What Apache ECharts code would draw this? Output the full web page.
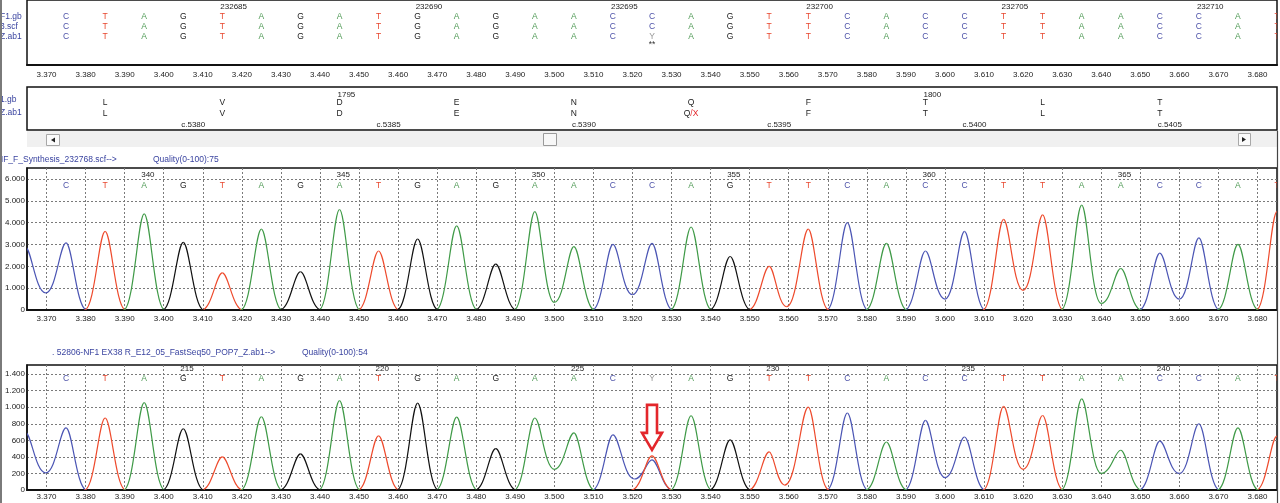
<!DOCTYPE html>
<html><head><meta charset="utf-8">
<script src="https://cdn.jsdelivr.net/npm/echarts@6.0.0/dist/echarts.min.js"></script>
<style>html,body{margin:0;padding:0;background:#fff;overflow:hidden}#chart{width:1280px;height:503px}</style>
</head><body><div id="chart"></div>
<script>
// ---------------- data ----------------
const xTicks = [3.370,3.380,3.390,3.400,3.410,3.420,3.430,3.440,3.450,3.460,3.470,3.480,3.490,3.500,3.510,3.520,3.530,3.540,3.550,3.560,3.570,3.580,3.590,3.600,3.610,3.620,3.630,3.640,3.650,3.660,3.670,3.680];
const basePos = [3.375,3.385,3.395,3.405,3.415,3.425,3.435,3.445,3.455,3.465,3.475,3.485,3.495,3.505,3.515,3.525,3.535,3.545,3.555,3.565,3.575,3.585,3.595,3.605,3.615,3.625,3.635,3.645,3.655,3.665,3.675,3.685];
const seqGb  = ['C','T','A','G','T','A','G','A','T','G','A','G','A','A','C','C','A','G','T','T','C','A','C','C','T','T','A','A','C','C','A','T'];
const seqScf = ['C','T','A','G','T','A','G','A','T','G','A','G','A','A','C','C','A','G','T','T','C','A','C','C','T','T','A','A','C','C','A','T'];
const seqAb1 = ['C','T','A','G','T','A','G','A','T','G','A','G','A','A','C','Y','A','G','T','T','C','A','C','C','T','T','A','A','C','C','A','T'];
const markPos = [3.525];
const markText = ['**'];
const genomicPos = [3.415,3.465,3.515,3.565,3.615,3.665];
const genomicNum = ['232685','232690','232695','232700','232705','232710'];
const aaPos = [3.385,3.415,3.445,3.475,3.505,3.535,3.565,3.595,3.625,3.655];
const aaRef = ['L','V','D','E','N','Q','F','T','L','T'];
const aaSample = ['L','V','D','E','N','Q/X','F','T','L','T'];
const codonPos = [3.445,3.595];
const codonNum = ['1795','1800'];
const cdnaPos = [3.405,3.455,3.505,3.555,3.605,3.655];
const cdnaLabel = ['c.5380','c.5385','c.5390','c.5395','c.5400','c.5405'];
const trace1NumPos = [3.395,3.445,3.495,3.545,3.595,3.645];
const trace1Num = ['340','345','350','355','360','365'];
const trace2NumPos = [3.405,3.455,3.505,3.555,3.605,3.655];
const trace2Num = ['215','220','225','230','235','240'];
const trace1Calls = ['C','T','A','G','T','A','G','A','T','G','A','G','A','A','C','C','A','G','T','T','C','A','C','C','T','T','A','A','C','C','A','T'];
const trace2Calls = ['C','T','A','G','T','A','G','A','T','G','A','G','A','A','C','Y','A','G','T','T','C','A','C','C','T','T','A','A','C','C','A','T'];
const trace1YTicks = [0,1000,2000,3000,4000,5000,6000];
const trace2YTicks = [0,200,400,600,800,1000,1200,1400];

// peak runs per channel: [position, amplitude] of peak tops and the valleys between merged peaks
const trace1A = [[[3.395,4400]],[[3.425,3700]],[[3.445,4600]],[[3.475,3850]],[[3.495,4500],[3.500,350],[3.505,2900]],[[3.535,3800]],[[3.585,3050]],[[3.635,4800],[3.640,300],[3.645,1900]],[[3.675,3000]]];
const trace1C = [[[3.3645,2900],[3.3698,780],[3.375,3070]],[[3.515,3000],[3.520,700],[3.525,3050]],[[3.575,4000]],[[3.595,2700],[3.600,500],[3.605,3600]],[[3.655,2600],[3.660,500],[3.665,3300]]];
const trace1G = [[[3.405,3100]],[[3.435,1750]],[[3.465,3250]],[[3.485,2100]],[[3.545,2450]]];
const trace1T = [[[3.385,3600]],[[3.415,1700]],[[3.455,2700]],[[3.555,2000],[3.5595,150],[3.565,3700]],[[3.615,4150],[3.620,900],[3.625,4350]],[[3.685,4500]]];

const trace2A = [[[3.395,1055]],[[3.425,885]],[[3.445,1080]],[[3.475,880]],[[3.495,870],[3.500,250],[3.505,690]],[[3.535,897]],[[3.585,580]],[[3.635,1100],[3.640,200],[3.645,480]],[[3.675,750]]];
const trace2C = [[[3.3645,700],[3.3698,206],[3.375,750]],[[3.515,667],[3.5205,133],[3.525,364]],[[3.575,930]],[[3.595,840],[3.600,150],[3.605,640]],[[3.655,590],[3.660,200],[3.665,800]]];
const trace2G = [[[3.405,740]],[[3.435,436]],[[3.465,1050]],[[3.485,500]],[[3.545,606]]];
const trace2T = [[[3.385,870]],[[3.415,400]],[[3.455,655]],[[3.525,412]],[[3.555,460],[3.559,60],[3.565,1000]],[[3.615,1010],[3.620,250],[3.625,900]],[[3.685,650]]];

const arrowAt = [[3.525,412]];

// ---------------- style ----------------
const X_MIN = 3.365, X_MAX = 3.685;
const HW = 0.0053;
const FONT = '8.5px "Liberation Sans", Arial, sans-serif';
const TFONT = '8.5px "Liberation Sans", Arial, sans-serif';
const COL = {A:'#3f9a47', C:'#4b55b4', G:'#111111', T:'#ee4a2c', Y:'#9a9a9a'};
const LCOL = {A:'#4f9a55', C:'#4d52a8', G:'#222222', T:'#e8472e', Y:'#999999'};
const LABEL_BLUE = '#3a44a0';
const GRID_LINE = '#7a7a7a';

const GRIDS = [
  {left:27, top:0, width:1250, height:65},
  {left:27, top:87, width:1250, height:43},
  {left:27, top:168, width:1250, height:142},
  {left:27, top:365, width:1250, height:125}
];

function fmtThousands(v){
  if (v >= 1000) { const k = Math.floor(v/1000); const r = v % 1000; return k + '.' + String(r).padStart(3,'0'); }
  return String(v);
}

function textSeries(gi, xs, texts, cfg) {
  return {
    type:'custom', xAxisIndex:gi, yAxisIndex:gi, clip:true, silent:true, z:5,
    data: xs.map(x => [x, 0]),
    encode:{x:0, y:1},
    renderItem(params, api) {
      const i = params.dataIndex;
      const px = api.coord([api.value(0), 0])[0];
      const cs = params.coordSys;
      const t = texts[i];
      const style = {
        text: cfg.richText ? cfg.richText(t) : t,
        fill: cfg.color ? cfg.color(t) : '#222',
        font: cfg.font || FONT,
        align: cfg.align || 'center',
        verticalAlign: 'middle'
      };
      if (cfg.rich) style.rich = cfg.rich;
      return {type:'text', x: px + (cfg.dx || 0), y: cs.y + cfg.dy, style};
    }
  };
}

function peakSeries(gi, runs, color) {
  return {
    type:'custom', xAxisIndex:gi, yAxisIndex:gi, clip:true, silent:true, z:3,
    data: runs.map(r => [r[0][0], r[0][1]]),
    encode:{x:0, y:1},
    renderItem(params, api) {
      const run = runs[params.dataIndex];
      const raw = [[run[0][0] - HW, 0]].concat(run, [[run[run.length-1][0] + HW, 0]]);
      const pts = raw.map(p => api.coord(p));
      const children = [];
      for (let k = 1; k < pts.length; k++) {
        const a = pts[k-1], b = pts[k];
        const dx = b[0] - a[0];
        const aHigh = a[1] < b[1];
        const ka = aHigh ? 0.3 : 0.5, kb = aHigh ? 0.5 : 0.3;
        children.push({type:'bezierCurve', shape:{x1:a[0], y1:a[1], cpx1:a[0]+ka*dx, cpy1:a[1], cpx2:b[0]-kb*dx, cpy2:b[1], x2:b[0], y2:b[1]},
          style:{stroke:color, lineWidth:1.2, fill:'none'}});
      }
      return {type:'group', children};
    }
  };
}

function xAxisFor(gi, showLabels, margin) {
  return {
    type:'value', gridIndex:gi, min:X_MIN, max:X_MAX,
    axisLine:{show: gi !== 1, onZero:false, lineStyle:{color:'#111', width:2}},
    axisTick:{show:false, customValues:xTicks},
    axisLabel:{show:showLabels, customValues:xTicks, formatter:v => v.toFixed(3), color:'#222', fontSize:8, fontFamily:'Liberation Sans', margin:margin},
    splitLine:{show: gi >= 2, lineStyle:{color:GRID_LINE, type:[2,2], width:1}}
  };
}
function yAxisFor(gi, max, ticks) {
  const isTrace = gi >= 2;
  return {
    type:'value', gridIndex:gi, min:0, max:max,
    axisLine:{show:isTrace, lineStyle:{color:'#111', width:1.5}},
    axisTick:{show:false, customValues:ticks || [0]},
    axisLabel:{show:isTrace, customValues:ticks || [0], formatter:fmtThousands, color:'#222', fontSize:8, fontFamily:'Liberation Sans', margin:2},
    splitLine:{show:isTrace, lineStyle:{color:GRID_LINE, type:[2,2], width:1}}
  };
}

const baseColor = t => LCOL[t] || '#222';
const series = [];
// top alignment panel
series.push(textSeries(0, genomicPos, genomicNum, {dy:7, align:'left', dx:-2, font:'8px "Liberation Sans", Arial, sans-serif'}));
series.push(textSeries(0, basePos, seqGb, {dy:17, color:baseColor}));
series.push(textSeries(0, basePos, seqScf, {dy:27, color:baseColor}));
series.push(textSeries(0, basePos, seqAb1, {dy:37, color:baseColor}));
series.push(textSeries(0, markPos, markText, {dy:45, color:() => '#333'}));
// protein panel
series.push(textSeries(1, codonPos, codonNum, {dy:8, align:'left', dx:-2, font:'8px "Liberation Sans", Arial, sans-serif'}));
series.push(textSeries(1, aaPos, aaRef, {dy:16}));
series.push(textSeries(1, aaPos, aaSample, {dy:27, richText: t => t.indexOf('/') >= 0 ? '{q|' + t.split('/')[0] + '}{x|/' + t.split('/')[1] + '}' : t,
  rich:{q:{fill:'#222', font:FONT}, x:{fill:'#e3262b', font:FONT}}}));
series.push(textSeries(1, cdnaPos, cdnaLabel, {dy:38, align:'left', dx:-2, font:'8px "Liberation Sans", Arial, sans-serif'}));
// trace 1
series.push(peakSeries(2, trace1C, COL.C));
series.push(peakSeries(2, trace1T, COL.T));
series.push(peakSeries(2, trace1A, COL.A));
series.push(peakSeries(2, trace1G, COL.G));
series.push(textSeries(2, trace1NumPos, trace1Num, {dy:7, align:'left', dx:-3, font:'8px "Liberation Sans", Arial, sans-serif'}));
series.push(textSeries(2, basePos, trace1Calls, {dy:18, color:baseColor}));
// trace 2
series.push(peakSeries(3, trace2C, COL.C));
series.push(peakSeries(3, trace2T, COL.T));
series.push(peakSeries(3, trace2A, COL.A));
series.push(peakSeries(3, trace2G, COL.G));
series.push(textSeries(3, trace2NumPos, trace2Num, {dy:4, align:'left', dx:-3, font:'8px "Liberation Sans", Arial, sans-serif'}));
series.push(textSeries(3, basePos, trace2Calls, {dy:14, color:baseColor}));
// arrow annotation at the heterozygous position
series.push({
  type:'custom', xAxisIndex:3, yAxisIndex:3, clip:false, silent:true, z:10,
  data: arrowAt, encode:{x:0, y:1},
  renderItem(params, api) {
    const p = api.coord([api.value(0), api.value(1)]);
    const tx = p[0], ty = p[1] - 6;
    return {type:'polygon', shape:{points:[[tx-5,ty-45],[tx+5,ty-45],[tx+5,ty-17],[tx+10,ty-17],[tx,ty],[tx-10,ty-17],[tx-5,ty-17]]},
      style:{fill:'#ffffff', stroke:'#e3262b', lineWidth:2.6}};
  }
});

const graphic = [
  {type:'rect', shape:{x:0, y:0, width:2, height:503}, style:{fill:'#7a7a7a'}, z:100},
  {type:'line', shape:{x1:1277.5, y1:131, x2:1277.5, y2:503}, style:{stroke:'#444', lineWidth:1.2}, z:100},
  // row labels
  {type:'text', x:0, y:17, style:{text:'F1.gb', fill:LABEL_BLUE, font:TFONT, verticalAlign:'middle'}},
  {type:'text', x:0, y:27, style:{text:'3.scf', fill:LABEL_BLUE, font:TFONT, verticalAlign:'middle'}},
  {type:'text', x:0, y:37, style:{text:'Z.ab1', fill:LABEL_BLUE, font:TFONT, verticalAlign:'middle'}},
  {type:'text', x:0, y:100, style:{text:'1.gb', fill:LABEL_BLUE, font:TFONT, verticalAlign:'middle'}},
  {type:'text', x:0, y:113, style:{text:'Z.ab1', fill:LABEL_BLUE, font:TFONT, verticalAlign:'middle'}},
  // scrollbar
  {type:'rect', shape:{x:27, y:131, width:1250, height:16}, style:{fill:'#f0f0f0'}},
  {type:'rect', shape:{x:46.5, y:134.5, width:13, height:11}, style:{fill:'#fbfbfb', stroke:'#a8a8a8', lineWidth:1}},
  {type:'polygon', shape:{points:[[51,140],[55,137.5],[55,142.5]]}, style:{fill:'#222'}},
  {type:'rect', shape:{x:543.5, y:133.5, width:13, height:12}, style:{fill:'#f7f7f7', stroke:'#9a9a9a', lineWidth:1}},
  {type:'rect', shape:{x:1238.5, y:133.5, width:12, height:12}, style:{fill:'#fbfbfb', stroke:'#a8a8a8', lineWidth:1}},
  {type:'polygon', shape:{points:[[1246,139.5],[1242,137],[1242,142]]}, style:{fill:'#222'}},
  // trace titles
  {type:'text', x:-3, y:160, style:{text:'NF_F_Synthesis_232768.scf-->', fill:LABEL_BLUE, font:TFONT, verticalAlign:'middle'}},
  {type:'text', x:153, y:160, style:{text:'Quality(0-100):75', fill:LABEL_BLUE, font:TFONT, verticalAlign:'middle'}},
  {type:'text', x:52, y:353, style:{text:'. 52806-NF1 EX38 R_E12_05_FastSeq50_POP7_Z.ab1-->', fill:LABEL_BLUE, font:TFONT, verticalAlign:'middle'}},
  {type:'text', x:302, y:353, style:{text:'Quality(0-100):54', fill:LABEL_BLUE, font:TFONT, verticalAlign:'middle'}}
];

const chart = echarts.init(document.getElementById('chart'), null, {renderer:'canvas'});
chart.setOption({
  animation:false,
  backgroundColor:'#ffffff',
  grid: GRIDS.map(g => Object.assign({show:true, borderColor:'#111', borderWidth:1.5, backgroundColor:'transparent'}, g)),
  xAxis:[xAxisFor(0, true, 6), xAxisFor(1, false, 0), xAxisFor(2, true, 5), xAxisFor(3, true, 3)],
  yAxis:[yAxisFor(0, 1, null), yAxisFor(1, 1, null), yAxisFor(2, 6500, trace1YTicks), yAxisFor(3, 1510, trace2YTicks)],
  graphic: graphic,
  series: series
});
</script>
</body></html>
